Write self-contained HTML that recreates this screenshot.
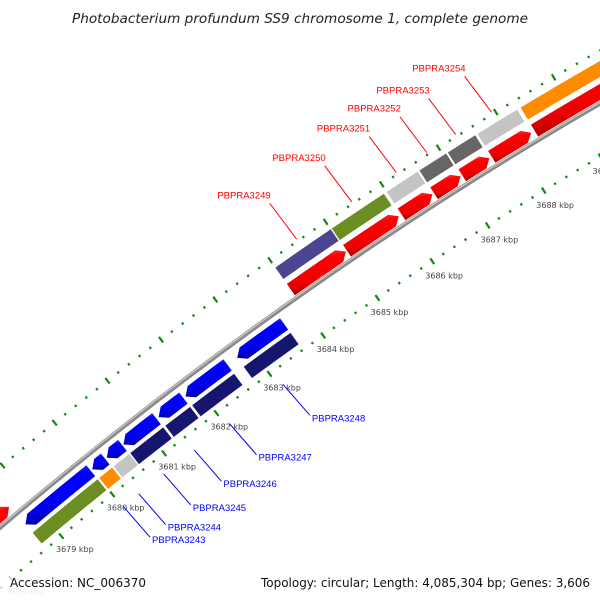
<!DOCTYPE html>
<html><head><meta charset="utf-8"><style>
html,body{margin:0;padding:0;background:#fff;width:600px;height:600px;overflow:hidden;}
svg{display:block;overflow:hidden;}
</style></head><body>
<svg id="map" width="600" height="600" viewBox="0 0 600 600" xmlns="http://www.w3.org/2000/svg">
<defs>
<linearGradient id="gRed" x1="0" y1="0" x2="0.25" y2="1"><stop offset="0" stop-color="#ff6a6a"/><stop offset="0.3" stop-color="#ff0000"/><stop offset="0.75" stop-color="#ee0000"/><stop offset="1" stop-color="#a00000"/></linearGradient>
<linearGradient id="gBlue" x1="0" y1="0" x2="0.25" y2="1"><stop offset="0" stop-color="#6a6aff"/><stop offset="0.3" stop-color="#0000ff"/><stop offset="0.75" stop-color="#0000ee"/><stop offset="1" stop-color="#0000a0"/></linearGradient>
</defs>
<text x="300" y="23" text-anchor="middle" font-family="DejaVu Sans, sans-serif" font-style="italic" font-size="13" fill="#222" textLength="456" lengthAdjust="spacingAndGlyphs">Photobacterium profundum SS9 chromosome 1, complete genome</text>
<g id="layer"></g>
<rect x="0" y="572" width="600" height="28" fill="#fff" opacity="0.75"/>
<text x="10" y="587" font-family="DejaVu Sans, sans-serif" font-size="12" fill="#111" textLength="136" lengthAdjust="spacingAndGlyphs">Accession: NC_006370</text>
<text x="590" y="587" text-anchor="end" font-family="DejaVu Sans, sans-serif" font-size="12" fill="#111" textLength="329" lengthAdjust="spacingAndGlyphs">Topology: circular; Length: 4,085,304 bp; Genes: 3,606</text>
</svg>
<script>
// forward strand genes (kbp)
const fwdStart = [3678.0, 3684.0, 3685.02, 3686.0, 3686.58, 3687.08, 3687.6, 3688.35];
const fwdEnd   = [3678.68, 3685.0, 3685.95, 3686.55, 3687.05, 3687.56, 3688.29, 3690.8];
const fwdLabel = ["", "PBPRA3249", "PBPRA3250", "PBPRA3251", "PBPRA3252", "PBPRA3253", "PBPRA3254", ""];
const fwdCog   = ["", "#4a4590", "#6b8e23", "#c4c4c4", "#666666", "#666666", "#c4c4c4", "#ff8c00"];
// reverse strand genes (kbp)
const revStart = [3678.7, 3680.0, 3680.28, 3680.6, 3681.27, 3681.78, 3682.75];
const revEnd   = [3679.97, 3680.25, 3680.58, 3681.23, 3681.74, 3682.57, 3683.62];
const revLabel = ["", "PBPRA3243", "PBPRA3244", "PBPRA3245", "PBPRA3246", "PBPRA3247", "PBPRA3248"];
const revCog   = ["#6b8e23", "#ff8c00", "#c4c4c4", "#16166e", "#16166e", "#16166e", "#16166e"];
// tick ranges
const tickFrom = 3677;
const tickTo = 3691;
const tickStep = 0.2;

const NS = "http://www.w3.org/2000/svg";
const CX = 2664, CY = 3660;
const DEG0 = 230.2, DEGPER = 0.93, K0 = 3679;
const layer = document.getElementById('layer');
function ang(k){ return (DEG0 + (k - K0) * DEGPER) * Math.PI / 180; }
function pt(r, k){ const a = ang(k); return [CX + r * Math.cos(a), CY + r * Math.sin(a)]; }
function f(p){ return p[0].toFixed(2) + "," + p[1].toFixed(2); }
function mk(tag, attrs){ const e = document.createElementNS(NS, tag); for (const k in attrs) e.setAttribute(k, attrs[k]); layer.appendChild(e); return e; }

// backbone
const bb = mk('path', {d: "M" + f(pt(4112, 3677)) + " A4112 4112 0 0 1 " + f(pt(4112, 3691)), fill: "none", stroke: "#8a8a8a", "stroke-width": 4.5});


const bb2 = mk('path', {d: "M" + f(pt(4113, 3677)) + " A4113 4113 0 0 1 " + f(pt(4113, 3691)), fill: "none", stroke: "#c8c8c8", "stroke-width": 1.3});



function band(r1, r2, k1, k2){
  return "M" + f(pt(r2, k1)) + " A" + r2 + " " + r2 + " 0 0 1 " + f(pt(r2, k2)) +
         " L" + f(pt(r1, k2)) + " A" + r1 + " " + r1 + " 0 0 0 " + f(pt(r1, k1)) + " Z";
}
function arrow(r1, r2, k1, k2, dir){
  const rm = (r1 + r2) / 2;
  const h = Math.min(8 / (rm * DEGPER * Math.PI / 180), (k2 - k1) * 0.6);
  if (dir > 0){
    const b = k2 - h;
    return "M" + f(pt(r2, k1)) + " A" + r2 + " " + r2 + " 0 0 1 " + f(pt(r2, b)) +
      " L" + f(pt(rm, k2)) + " L" + f(pt(r1, b)) + " A" + r1 + " " + r1 + " 0 0 0 " + f(pt(r1, k1)) + " Z";
  } else {
    const b = k1 + h;
    return "M" + f(pt(rm, k1)) + " L" + f(pt(r2, b)) + " A" + r2 + " " + r2 + " 0 0 1 " + f(pt(r2, k2)) +
      " L" + f(pt(r1, k2)) + " A" + r1 + " " + r1 + " 0 0 0 " + f(pt(r1, b)) + " Z";
  }
}

// tick rings
const nT = Math.round((tickTo - tickFrom) / tickStep);
for (let i = 0; i <= nT; i++){
  const k = tickFrom + i * tickStep;
  const major = Math.abs(k - Math.round(k)) < 1e-6;
  const len = major ? 3.5 : 1.2;
  [4158, 4066].forEach(function(r, j){
    const t = mk('line', {x1: pt(r - len, k)[0], y1: pt(r - len, k)[1], x2: pt(r + len, k)[0], y2: pt(r + len, k)[1], stroke: "#118811", "stroke-width": 2.2});
    
    
  });
  if (major){
    const p = pt(4048, k);
    if (p[0] > -30 && p[0] < 630 && p[1] > -30 && p[1] < 610){
      const tx = mk('text', {x: p[0] + 2, y: p[1] + 2, "text-anchor": "middle", "font-family": "DejaVu Sans, sans-serif", "font-size": 8, fill: "#444"});
      tx.textContent = Math.round(k) + " kbp";
      
      
      if (p[1] > 575) tx.setAttribute('opacity', '0.35');
    }
  }
}

// forward genes
for (let i = 0; i < fwdStart.length; i++){
  if (fwdCog[i]){
    const c = mk('path', {d: band(4135, 4149, fwdStart[i], fwdEnd[i]), fill: fwdCog[i]});
    
    
  }
  const a = mk('path', {d: arrow(4115, 4129, fwdStart[i], fwdEnd[i], 1), fill: "url(#gRed)"});
  
  
  if (fwdLabel[i]){
    const m = (fwdStart[i] + fwdEnd[i]) / 2;
    const e = pt(4160, m);
    const s = [e[0] - 27, e[1] - 36];
    const l = mk('line', {x1: e[0], y1: e[1], x2: s[0], y2: s[1], stroke: "#ff0000", "stroke-width": 1});
    
    
    const t = mk('text', {x: s[0] + 1, y: s[1] - 5, "text-anchor": "end", "font-family": "Liberation Sans, sans-serif", "font-size": 9.5, fill: "#ff0000"});
    t.textContent = fwdLabel[i];
    
    
  }
}
// reverse genes
for (let i = 0; i < revStart.length; i++){
  const a = mk('path', {d: arrow(4091, 4105, revStart[i], revEnd[i], -1), fill: "url(#gBlue)"});
  
  
  const c = mk('path', {d: band(4073, 4087, revStart[i], revEnd[i]), fill: revCog[i]});
  
  
  if (revLabel[i]){
    const m = (revStart[i] + revEnd[i]) / 2;
    const p0 = pt(4048, m);
    const s = [p0[0] - 7, p0[1] + 3];
    const e = [s[0] + 27, s[1] + 31];
    const l = mk('line', {x1: s[0], y1: s[1], x2: e[0], y2: e[1], stroke: "#0000ff", "stroke-width": 1});
    
    
    const t = mk('text', {x: e[0] + 2, y: e[1] + 6, "font-family": "Liberation Sans, sans-serif", "font-size": 9.5, fill: "#0000ff"});
    t.textContent = revLabel[i];
    
    
  }
}
</script>
</body></html>
